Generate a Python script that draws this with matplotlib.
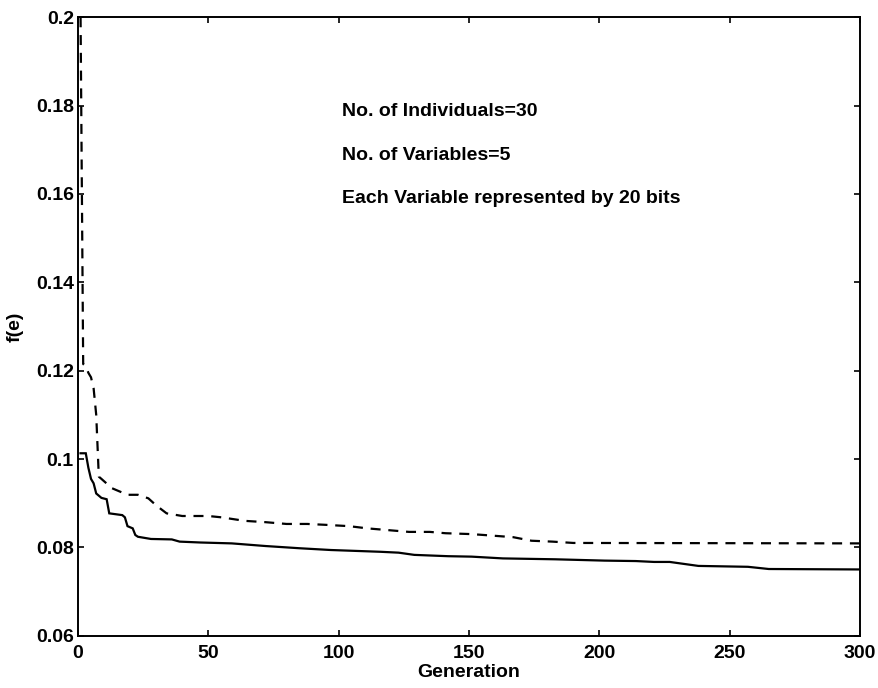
import matplotlib
matplotlib.use("Agg")
import matplotlib.pyplot as plt
from matplotlib.ticker import FixedLocator, FixedFormatter

plt.rcParams['font.family'] = ['Liberation Sans', 'DejaVu Sans']

# Best-so-far (solid) curve breakpoints
solid_gen = [1, 3, 4, 5, 6, 7, 9, 11, 12, 17, 18, 19, 21, 22, 23, 28, 36, 39, 47, 59,
             72, 85, 97, 116, 123, 129, 142, 151, 163, 183, 202, 214, 221, 227, 238,
             257, 265, 300]
solid_val = [0.1013, 0.1013, 0.0980, 0.0955, 0.0945, 0.0922, 0.0912, 0.0909, 0.0877,
             0.0873, 0.0868, 0.0848, 0.0843, 0.0828, 0.0824, 0.0819, 0.0818, 0.0813,
             0.0811, 0.0809, 0.0803, 0.0798, 0.0794, 0.0790, 0.0788, 0.0783, 0.0780,
             0.0779, 0.0775, 0.0773, 0.0770, 0.0769, 0.0767, 0.0767, 0.0758, 0.0756,
             0.0751, 0.0750]

# Average (dashed) curve breakpoints
dash_gen = [1, 2, 3, 4, 5, 6, 7, 8, 9, 13, 19, 23, 27, 30, 34, 40, 50, 55, 64, 72, 80,
            88, 95, 104, 111, 119, 127, 135, 141, 151, 158, 167, 174, 182, 190, 300]
dash_val = [0.2000, 0.1215, 0.1210, 0.1195, 0.1185, 0.1160, 0.1100, 0.0960, 0.0955,
            0.0934, 0.0919, 0.0919, 0.0911, 0.0895, 0.0877, 0.0871, 0.0871, 0.0868,
            0.0860, 0.0857, 0.0853, 0.0853, 0.0851, 0.0848, 0.0843, 0.0839, 0.0835,
            0.0835, 0.0832, 0.0830, 0.0827, 0.0823, 0.0815, 0.0813, 0.0810, 0.0809]

xticks = [0, 50, 100, 150, 200, 250, 300]
xtick_labels = ['0', '50', '100', '150', '200', '250', '300']
yticks = [0.06, 0.08, 0.10, 0.12, 0.14, 0.16, 0.18, 0.20]
ytick_labels = ['0.06', '0.08', '0.1', '0.12', '0.14', '0.16', '0.18', '0.2']

notes = ['No. of Individuals=30', 'No. of Variables=5',
         'Each Variable represented by 20 bits']

fig = plt.figure(figsize=(8.79, 6.88), dpi=100)
ax = fig.add_axes([0.0887, 0.076, 0.8897, 0.8989])

ax.plot(solid_gen, solid_val, color='black', lw=1.6, solid_joinstyle='miter')
ax.plot(dash_gen, dash_val, color='black', lw=1.6, linestyle=(0, (4.5, 3.5)))

ax.set_xlim(0, 300)
ax.set_ylim(0.06, 0.2)
ax.xaxis.set_major_locator(FixedLocator(xticks))
ax.xaxis.set_major_formatter(FixedFormatter(xtick_labels))
ax.yaxis.set_major_locator(FixedLocator(yticks))
ax.yaxis.set_major_formatter(FixedFormatter(ytick_labels))
ax.tick_params(direction='in', length=4, width=1.2, top=True, right=True,
               labelsize=14)
ax.tick_params(axis='x', pad=7)
ax.tick_params(axis='y', pad=3)
for lab in ax.get_xticklabels() + ax.get_yticklabels():
    lab.set_fontweight('bold')
for s in ax.spines.values():
    s.set_linewidth(1.4)

ax.set_xlabel('Generation', fontsize=14, fontweight='bold', labelpad=1)
ax.set_ylabel('f(e)', fontsize=14, fontweight='bold', labelpad=9)

for txt, yv in zip(notes, [0.1777, 0.1677, 0.1580]):
    ax.text(101.3, yv, txt, fontsize=14, fontweight='bold', va='baseline', ha='left')

fig.savefig('out.png', dpi=100)
